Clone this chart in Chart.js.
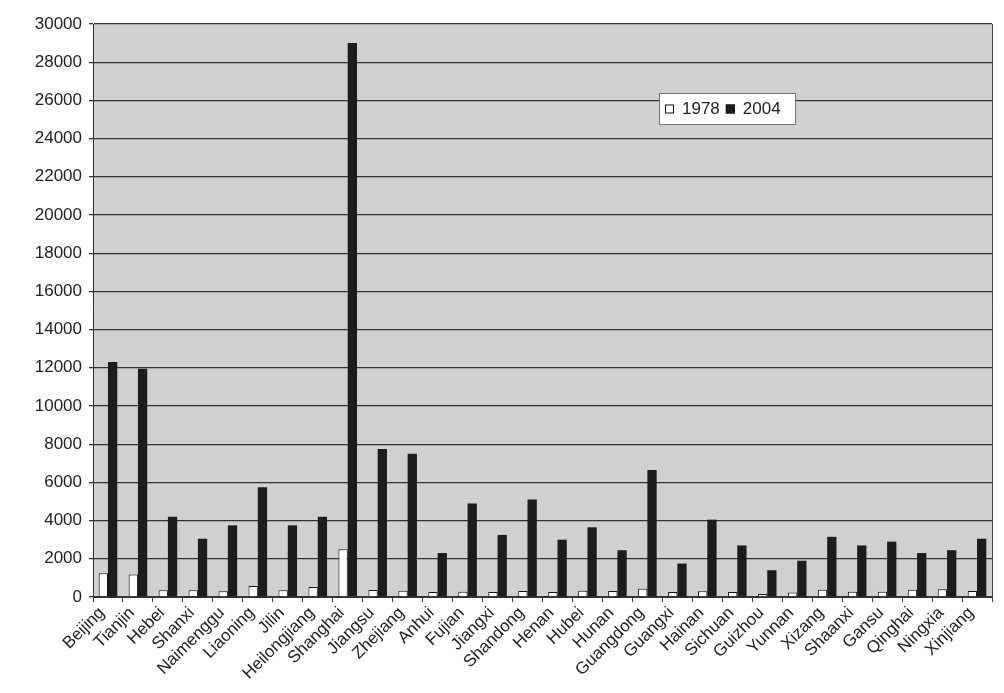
<!DOCTYPE html>
<html>
<head>
<meta charset="utf-8">
<script src="https://cdn.jsdelivr.net/npm/chart.js@4.4.1/dist/chart.umd.min.js"></script>
<style>
  html, body { margin: 0; padding: 0; background: #ffffff; }
  #c { display: block; }
</style>
</head>
<body>
<canvas id="c" width="1004" height="693"></canvas>
<script>
// Provinces (categories)
const provinces = [
  "Beijing", "Tianjin", "Hebei", "Shanxi", "Naimenggu", "Liaoning", "Jilin",
  "Heilongjiang", "Shanghai", "Jiangsu", "Zhejiang", "Anhui", "Fujian", "Jiangxi",
  "Shandong", "Henan", "Hubei", "Hunan", "Guangdong", "Guangxi", "Hainan",
  "Sichuan", "Guizhou", "Yunnan", "Xizang", "Shaanxi", "Gansu", "Qinghai",
  "Ningxia", "Xinjiang"
];

// Series values
const values1978 = [
  1250, 1180, 350, 350, 300, 580, 350, 520, 2500, 370,
  330, 260, 270, 260, 320, 260, 330, 310, 430, 260,
  300, 260, 160, 240, 380, 280, 280, 380, 400, 310
];
const values2004 = [
  12300, 11950, 4200, 3050, 3750, 5750, 3750, 4200, 29000, 7750,
  7500, 2300, 4900, 3250, 5100, 3000, 3650, 2450, 6650, 1750,
  4050, 2700, 1400, 1900, 3150, 2700, 2900, 2300, 2450, 3050
];

// Series labels and value axis range
const seriesLabels = ["1978", "2004"];
const yMin = 0;
const yMax = 30000;
const yStep = 2000;

const FONT = "'Liberation Sans', Arial, sans-serif";

// Grey plot area behind the bars, closed on the right by a frame line
const plotBackground = {
  id: "plotBackground",
  beforeDraw(chart) {
    const { ctx, chartArea: a } = chart;
    ctx.save();
    ctx.fillStyle = "#d0d0d0";
    ctx.fillRect(a.left, a.top, a.right - a.left, a.bottom - a.top);
    ctx.restore();
  },
  afterDatasetsDraw(chart) {
    const { ctx, chartArea: a } = chart;
    ctx.save();
    ctx.strokeStyle = "#444";
    ctx.lineWidth = 1;
    ctx.beginPath();
    ctx.moveTo(Math.round(a.right) + 0.5, a.top);
    ctx.lineTo(Math.round(a.right) + 0.5, a.bottom);
    ctx.stroke();
    ctx.restore();
  }
};

// Boxed legend placed inside the plot area
const boxLegend = {
  id: "boxLegend",
  afterDraw(chart) {
    const { ctx } = chart;
    const x0 = 659, y0 = 93, w = 136, h = 31;
    ctx.save();
    ctx.fillStyle = "#ffffff";
    ctx.fillRect(x0, y0, w, h);
    ctx.strokeStyle = "#777";
    ctx.lineWidth = 1;
    ctx.strokeRect(x0 + 0.5, y0 + 0.5, w, h);
    ctx.font = "17px " + FONT;
    ctx.textBaseline = "middle";
    let x = x0 + 6;
    const cy = y0 + h / 2 + 1;
    chart.data.datasets.forEach((ds) => {
      ctx.fillStyle = ds.backgroundColor;
      ctx.fillRect(x, cy - 5, 9, 9);
      ctx.strokeStyle = "#111";
      ctx.strokeRect(x + 0.5, cy - 4.5, 8, 8);
      x += 17;
      ctx.fillStyle = "#222";
      ctx.fillText(ds.label, x, cy);
      x += ctx.measureText(ds.label).width + 6;
    });
    ctx.restore();
  }
};

new Chart(document.getElementById("c"), {
  type: "bar",
  data: {
    labels: provinces,
    datasets: [
      {
        label: seriesLabels[0],
        data: values1978,
        backgroundColor: "#ffffff",
        borderColor: "#111111",
        borderWidth: 1
      },
      {
        label: seriesLabels[1],
        data: values2004,
        backgroundColor: "#1c1c1c",
        borderColor: "#1c1c1c",
        borderWidth: 0
      }
    ]
  },
  options: {
    responsive: false,
    animation: false,
    layout: { padding: { top: 24, right: 12, left: 0, bottom: 0 } },
    datasets: { bar: { categoryPercentage: 0.62, barPercentage: 1.0 } },
    plugins: {
      legend: { display: false },
      tooltip: { enabled: false },
      title: { display: false }
    },
    scales: {
      x: {
        grid: {
          display: true,
          drawOnChartArea: false,
          drawTicks: true,
          tickLength: 5,
          color: "#444",
          offset: true
        },
        border: { display: true, color: "#333", width: 1 },
        ticks: {
          autoSkip: false,
          maxRotation: 45,
          minRotation: 45,
          padding: 1,
          labelOffset: -6,
          color: "#222",
          font: { family: FONT, size: 17 }
        },
        afterFit(scale) { scale.height = 96; }
      },
      y: {
        min: yMin,
        max: yMax,
        grid: {
          color: "#333333",
          lineWidth: 1.3,
          drawTicks: true,
          tickLength: 4
        },
        border: { display: true, color: "#333", width: 1 },
        ticks: {
          stepSize: yStep,
          padding: 7,
          color: "#222",
          font: { family: FONT, size: 17 },
          callback: (v) => String(v)
        },
        afterFit(scale) { scale.width = 93; }
      }
    }
  },
  plugins: [plotBackground, boxLegend]
});
</script>
</body>
</html>
